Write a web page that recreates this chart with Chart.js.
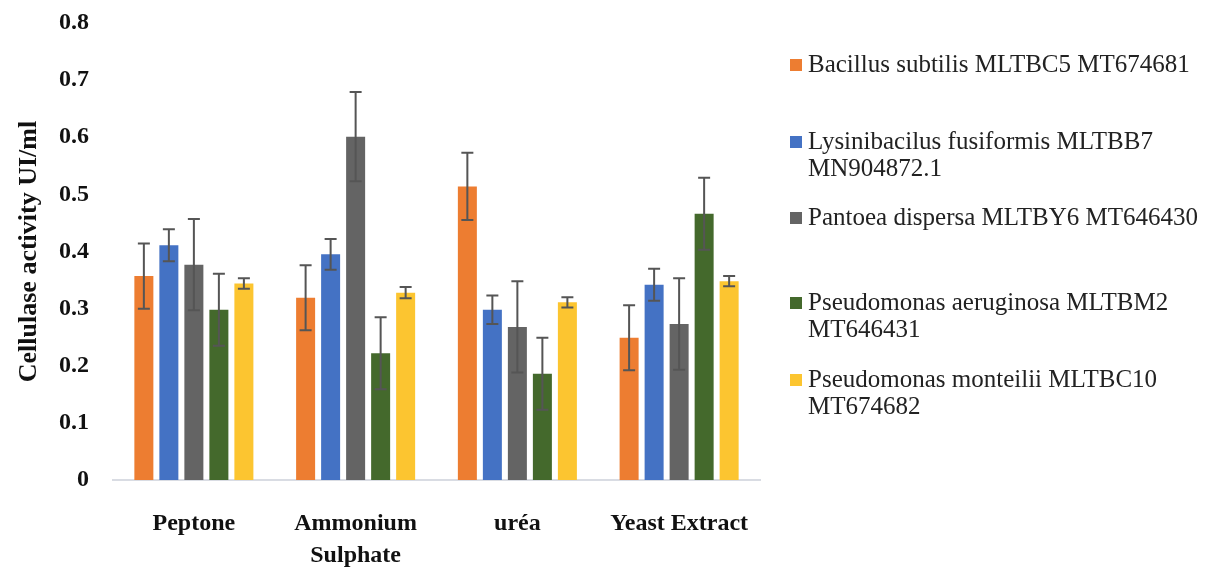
<!DOCTYPE html>
<html>
<head>
<meta charset="utf-8">
<script src="https://cdn.jsdelivr.net/npm/chart.js@4.4.1/dist/chart.umd.min.js"></script>
<style>
  html, body { margin: 0; padding: 0; background: #fff; }
  #wrap { width: 1209px; height: 567px; position: relative; }
</style>
</head>
<body>
<div id="wrap"><canvas id="myChart"></canvas></div>
<script>
// categories (nitrogen sources)
var sources = ['Peptone', ['Ammonium', 'Sulphate'], 'uréa', 'Yeast Extract']

// legend text, wrapped as in the figure
var strainLines = [
    ['Bacillus subtilis MLTBC5 MT674681'],
    ['Lysinibacilus fusiformis MLTBB7', 'MN904872.1'],
    ['Pantoea dispersa MLTBY6 MT646430'],
    ['Pseudomonas aeruginosa MLTBM2', 'MT646431'],
    ['Pseudomonas monteilii MLTBC10', 'MT674682']
]

// cellulase activity UI/ml, per strain, over the 4 sources
var bacillus = [0.357, 0.319, 0.514, 0.249]
var lysini = [0.411, 0.395, 0.298, 0.342]
var pantoea = [0.377, 0.601, 0.268, 0.273]
var aeruginosa = [0.298, 0.222, 0.186, 0.466]
var monteilii = [0.344, 0.328, 0.311, 0.348]

// error bar half-lengths
var errBacillus = [0.057, 0.057, 0.059, 0.057]
var errLysini = [0.028, 0.027, 0.025, 0.028]
var errPantoea = [0.08, 0.078, 0.08, 0.08]
var errAeruginosa = [0.063, 0.063, 0.063, 0.063]
var errMonteilii = [0.009, 0.01, 0.009, 0.009]

var yTicks = [0, 0.1, 0.2, 0.3, 0.4, 0.5, 0.6, 0.7, 0.8]

var colors = ['#ED7D31', '#4472C4', '#646464', '#44692C', '#FCC530']
var values = [bacillus, lysini, pantoea, aeruginosa, monteilii]
var errors = [errBacillus, errLysini, errPantoea, errAeruginosa, errMonteilii]

var serif = '"Liberation Serif", "Times New Roman", serif'

var errorBars = {
    id: 'errorBars',
    afterDatasetsDraw: function(chart) {
        var ctx = chart.ctx
        var ys = chart.scales.y
        ctx.save()
        ctx.strokeStyle = '#555555'
        ctx.lineWidth = 2
        chart.data.datasets.forEach(function(ds, i) {
            var meta = chart.getDatasetMeta(i)
            meta.data.forEach(function(bar, j) {
                var v = ds.data[j], e = ds.err[j]
                var top = ys.getPixelForValue(v + e)
                var bot = ys.getPixelForValue(v - e)
                ctx.beginPath()
                ctx.moveTo(bar.x, top); ctx.lineTo(bar.x, bot)
                ctx.moveTo(bar.x - 6, top); ctx.lineTo(bar.x + 6, top)
                ctx.moveTo(bar.x - 6, bot); ctx.lineTo(bar.x + 6, bot)
                ctx.stroke()
            })
        })
        ctx.restore()
    }
}

var sideLegend = {
    id: 'sideLegend',
    afterDraw: function(chart) {
        var ctx = chart.ctx
        var firstLine = [65, 142, 218, 303, 380]
        ctx.save()
        ctx.font = '25px ' + serif
        ctx.textBaseline = 'middle'
        chart.data.datasets.forEach(function(ds, i) {
            var y = firstLine[i]
            ctx.fillStyle = ds.backgroundColor
            ctx.fillRect(790, y - 6, 12, 12)
            ctx.fillStyle = '#222'
            ds.lines.forEach(function(t, k) {
                ctx.fillText(t, 808, y + k * 27)
            })
        })
        ctx.restore()
    }
}

var datasets = values.map(function(v, i) {
    return {
        label: strainLines[i].join(' '),
        lines: strainLines[i],
        data: v,
        err: errors[i],
        backgroundColor: colors[i],
        categoryPercentage: 0.773,
        barPercentage: 0.76
    }
})

var ctx = document.getElementById('myChart').getContext('2d')
var chart1 = new Chart(ctx, {
    type: 'bar',
    plugins: [errorBars, sideLegend],
    data: {
        labels: sources,
        datasets: datasets
    },
    options: {
        responsive: true,
        maintainAspectRatio: false,
        animation: false,
        layout: {
            padding: { top: 23, right: 449, left: 0, bottom: 0 }
        },
        plugins: {
            legend: { display: false },
            tooltip: { enabled: false }
        },
        scales: {
            x: {
                grid: { display: false, drawTicks: false },
                border: { display: true, color: '#D9DCE3', width: 2 },
                ticks: {
                    color: '#111',
                    padding: 28,
                    maxRotation: 0,
                    font: { family: serif, size: 24, weight: 'bold', lineHeight: 1.33 }
                },
                afterFit: function(s) { s.height = 87 }
            },
            y: {
                min: 0,
                max: 0.8,
                grid: { display: false, drawTicks: false },
                border: { display: false },
                afterBuildTicks: function(s) {
                    s.ticks = yTicks.map(function(v) { return { value: v } })
                },
                ticks: {
                    color: '#111',
                    padding: 24,
                    font: { family: serif, size: 24, weight: 'bold' },
                    callback: function(v) { return String(Math.round(v * 10) / 10) }
                },
                title: {
                    display: true,
                    text: 'Cellulase activity UI/ml',
                    color: '#111',
                    padding: { top: 14, bottom: 0 },
                    font: { family: serif, size: 26, weight: 'bold' }
                },
                afterFit: function(s) {
                    s.width = 113
                    s.paddingTop = 0
                    s.paddingBottom = 0
                }
            }
        }
    }
})
</script>
</body>
</html>
